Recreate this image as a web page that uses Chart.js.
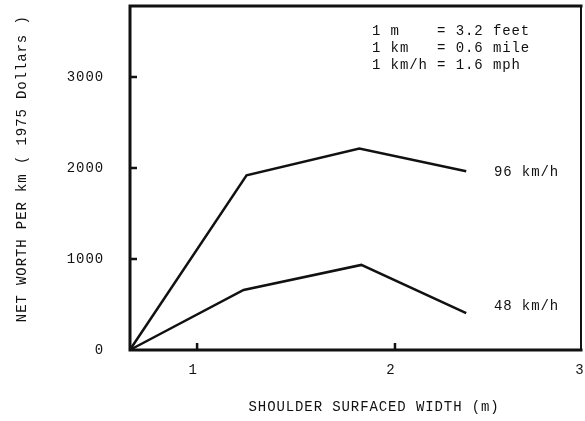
<!DOCTYPE html>
<html><head><meta charset="utf-8">
<script src="https://cdn.jsdelivr.net/npm/chart.js@4.4.1/dist/chart.umd.min.js"></script>
<style>html,body{margin:0;padding:0;background:#fff}#wrap{width:585px;height:421px}</style>
</head><body><div id="wrap"><canvas id="c" width="585" height="421"></canvas></div>
<script>
// ---- data ----
const seriesNames = ['96 km/h', '48 km/h'];
const widthFast = [0.66, 1.25, 1.82, 2.36];
const worthFast = [0, 1920, 2215, 1965];
const widthSlow = [0.66, 1.235, 1.83, 2.36];
const worthSlow = [0, 660, 935, 405];
const xTickValues = [1, 2, 3];
const yTickValues = [0, 1000, 2000, 3000];
const xTitle = 'SHOULDER SURFACED WIDTH (m)';
const yTitle = 'NET WORTH PER km ( 1975 Dollars )';
const conversions = ['1 m    = 3.2 feet', '1 km   = 0.6 mile', '1 km/h = 1.6 mph'];

// ---- layout / style (not data) ----
const FONT = "'Liberation Mono', 'DejaVu Sans Mono', monospace";
const INK = '#111';
const xRange = [0.661, 2.94];
const yRange = [0, 3780];
const seriesLabelPos = [[2.5, 1950], [2.5, 485]];

const toPts = (xs, ys) => xs.map((x, i) => ({x: x, y: ys[i]}));

const spacing = {
  id: 'spacing',
  beforeUpdate(c) { c.ctx.letterSpacing = '0.9px'; },
  beforeDraw(c) { c.ctx.letterSpacing = '0.9px'; }
};

const decor = {
  id: 'decor',
  afterDraw(c) {
    const ctx = c.ctx, a = c.chartArea, xs = c.scales.x, ys = c.scales.y;
    ctx.save();
    ctx.letterSpacing = '0.9px';
    ctx.strokeStyle = INK;
    ctx.lineCap = 'square';
    // frame
    ctx.lineWidth = 3;
    ctx.beginPath();
    ctx.moveTo(a.left, a.top); ctx.lineTo(a.left, a.bottom); ctx.lineTo(a.right, a.bottom);
    ctx.moveTo(a.left, a.top); ctx.lineTo(a.right, a.top);
    ctx.stroke();
    ctx.lineWidth = 2;
    ctx.beginPath(); ctx.moveTo(a.right, a.top); ctx.lineTo(a.right, a.bottom); ctx.stroke();
    // inward ticks
    ctx.lineWidth = 2.5;
    ctx.lineCap = 'butt';
    ctx.beginPath();
    yTickValues.forEach(v => { if (v > yRange[0]) { const p = ys.getPixelForValue(v); ctx.moveTo(a.left, p); ctx.lineTo(a.left + 7, p); } });
    xTickValues.forEach(v => { if (v <= xRange[1]) { const p = xs.getPixelForValue(v); ctx.moveTo(p, a.bottom); ctx.lineTo(p, a.bottom - 7); } });
    ctx.stroke();
    // tick labels outside range (at the edge)
    ctx.fillStyle = INK;
    ctx.font = '14px ' + FONT;
    let ly = a.bottom + 20, base = 'middle';
    try {
      const it = xs.getLabelItems()[0];
      ly = it.options.translation[1] + it.textOffset; base = it.options.textBaseline;
    } catch (e) {}
    xTickValues.forEach(v => {
      if (v > xRange[1]) { ctx.textAlign = 'center'; ctx.textBaseline = base; ctx.fillText(String(v), a.right - 1, ly); }
    });
    // series labels
    ctx.textAlign = 'left'; ctx.textBaseline = 'middle';
    seriesNames.forEach((n, i) => {
      ctx.fillText(n, xs.getPixelForValue(seriesLabelPos[i][0]), ys.getPixelForValue(seriesLabelPos[i][1]));
    });
    // conversions
    conversions.forEach((t, i) => ctx.fillText(t, a.left + 242, a.top + 25 + i * 17));
    ctx.restore();
  }
};

new Chart(document.getElementById('c'), {
  type: 'line',
  data: {
    datasets: [
      {label: seriesNames[0], data: toPts(widthFast, worthFast), borderColor: INK, borderWidth: 2.5, pointRadius: 0, tension: 0, clip: false},
      {label: seriesNames[1], data: toPts(widthSlow, worthSlow), borderColor: INK, borderWidth: 2.5, pointRadius: 0, tension: 0, clip: false}
    ]
  },
  options: {
    responsive: false,
    animation: false,
    devicePixelRatio: 1,
    layout: {padding: {left: 0, right: 4, top: 6, bottom: 0}},
    plugins: {legend: {display: false}, tooltip: {enabled: false}},
    scales: {
      x: {
        type: 'linear', min: xRange[0], max: xRange[1],
        afterBuildTicks: s => { s.ticks = xTickValues.filter(v => v <= xRange[1]).map(v => ({value: v})); },
        afterFit: s => { s.height = 71; s.paddingLeft = 0; s.paddingRight = 0; s.paddingTop = 0; s.paddingBottom = 0; },
        grid: {display: false, drawTicks: false},
        border: {display: false},
        ticks: {color: INK, font: {family: FONT, size: 14}, padding: 12, labelOffset: -4, maxRotation: 0, autoSkip: false, callback: v => String(v)},
        title: {display: true, text: '    ' + xTitle, color: INK, font: {family: FONT, size: 14}, padding: {top: 0, bottom: 5}}
      },
      y: {
        type: 'linear', min: yRange[0], max: yRange[1],
        afterBuildTicks: s => { s.ticks = yTickValues.map(v => ({value: v})); },
        afterFit: s => { s.width = 130; s.paddingTop = 0; s.paddingBottom = 0; s.paddingLeft = 0; s.paddingRight = 0; },
        grid: {display: false, drawTicks: false},
        border: {display: false},
        ticks: {color: INK, font: {family: FONT, size: 14}, padding: 26, autoSkip: false, callback: v => String(v)},
        title: {display: true, text: '  ' + yTitle, color: INK, font: {family: FONT, size: 14}, padding: {top: 14, bottom: 0}}
      }
    }
  },
  plugins: [spacing, decor]
});
</script></body></html>
